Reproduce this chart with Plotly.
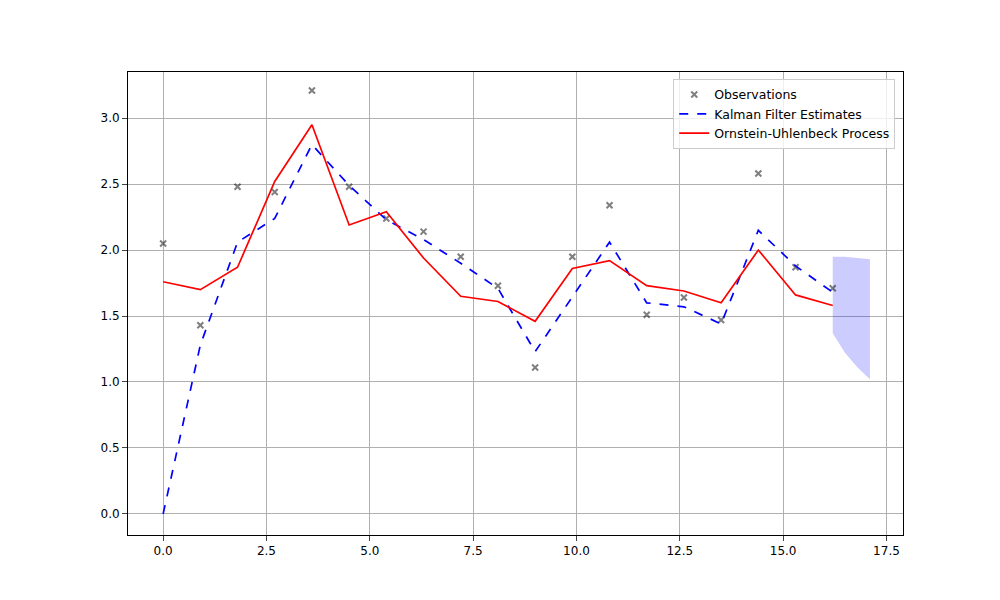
import plotly.graph_objects as go

t = [round(0.9 * i, 1) for i in range(19)]
observations = [2.05, 1.43, 2.48, 2.44, 3.21, 2.48, 2.24, 2.14, 1.95, 1.73,
                1.11, 1.95, 2.34, 1.51, 1.64, 1.47, 2.58, 1.87, 1.71]
kalman = [0.0, 1.28, 2.06, 2.24, 2.80, 2.49, 2.23, 2.08, 1.90, 1.71,
          1.23, 1.65, 2.06, 1.60, 1.57, 1.44, 2.15, 1.88, 1.68]
ou = [1.76, 1.70, 1.87, 2.52, 2.95, 2.19, 2.29, 1.94, 1.65, 1.61,
      1.46, 1.86, 1.92, 1.73, 1.69, 1.60, 2.00, 1.66, 1.58]
t_fc = [16.2, 16.5, 16.8, 17.1]
fc_upper = [1.95, 1.95, 1.94, 1.93]
fc_lower = [1.37, 1.22, 1.11, 1.02]

fig = go.Figure()
fig.add_trace(go.Scatter(x=t_fc + t_fc[::-1], y=fc_upper + fc_lower[::-1],
                         fill='toself', fillcolor='rgba(0,0,255,0.2)',
                         line=dict(width=0), mode='lines', showlegend=False))
fig.add_trace(go.Scatter(x=t, y=observations, mode='markers', name='Observations',
                         marker=dict(symbol='x-thin', size=6, color='rgba(0,0,0,0.5)',
                                     line=dict(width=2, color='rgba(0,0,0,0.5)'))))
fig.add_trace(go.Scatter(x=t, y=kalman, mode='lines', name='Kalman Filter Estimates',
                         line=dict(color='blue', dash='dash', width=1.7)))
fig.add_trace(go.Scatter(x=t, y=ou, mode='lines', name='Ornstein-Uhlenbeck Process',
                         line=dict(color='red', width=1.7)))

axis = dict(showgrid=True, gridcolor='#b0b0b0', showline=True, mirror=True,
            linecolor='black', ticks='outside', zeroline=False,
            tickfont=dict(size=12, color='black'))
fig.update_layout(
    width=1000, height=600, plot_bgcolor='white', paper_bgcolor='white',
    margin=dict(l=120, r=105, t=64, b=73),
    font=dict(family='DejaVu Sans', color='black'),
    xaxis=dict(range=[-0.85, 17.9], tickvals=[0, 2.5, 5, 7.5, 10, 12.5, 15, 17.5],
               ticktext=['0.0', '2.5', '5.0', '7.5', '10.0', '12.5', '15.0', '17.5'], **axis),
    yaxis=dict(range=[-0.16, 3.35], tickvals=[0, 0.5, 1, 1.5, 2, 2.5, 3],
               ticktext=['0.0', '0.5', '1.0', '1.5', '2.0', '2.5', '3.0'], **axis),
    legend=dict(x=0.99, y=0.985, xanchor='right', yanchor='top',
                bordercolor='#cccccc', borderwidth=1, bgcolor='rgba(255,255,255,0.8)',
                font=dict(size=12.5), tracegroupgap=0),
)
fig.write_html("out.html")
